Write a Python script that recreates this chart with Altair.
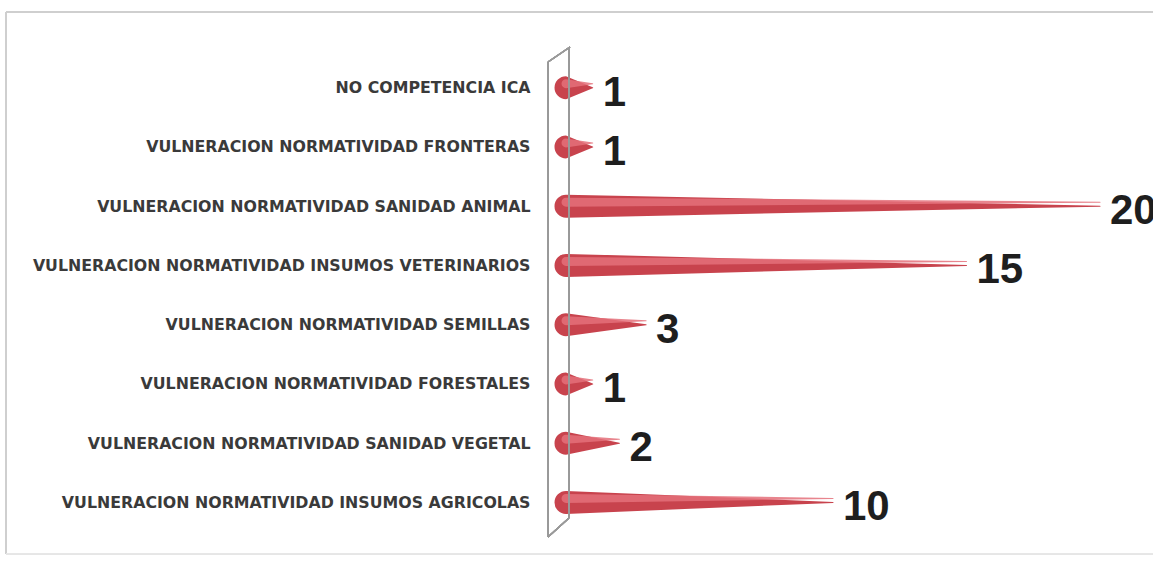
import altair as alt
import pandas as pd

categories = [
    "NO COMPETENCIA ICA",
    "VULNERACION NORMATIVIDAD FRONTERAS",
    "VULNERACION NORMATIVIDAD SANIDAD ANIMAL",
    "VULNERACION NORMATIVIDAD INSUMOS VETERINARIOS",
    "VULNERACION NORMATIVIDAD SEMILLAS",
    "VULNERACION NORMATIVIDAD FORESTALES",
    "VULNERACION NORMATIVIDAD SANIDAD VEGETAL",
    "VULNERACION NORMATIVIDAD INSUMOS AGRICOLAS",
]
values = [1, 1, 20, 15, 3, 1, 2, 10]

# cone geometry: base (value 0, wide) -> tip (value, zero width)
rows = []
for c, v in zip(categories, values):
    rows.append({"cat": c, "x": 0, "w": 23, "hl": 9, "order": 0})
    rows.append({"cat": c, "x": v, "w": 0, "hl": 0, "order": 1})
cones = pd.DataFrame(rows)
labels = pd.DataFrame({"cat": categories, "value": values})

PL, PT = 566, 58
W, H = 1100 - PL, 474

xs = alt.Scale(domain=[0, 20], nice=False, zero=True)
ys = alt.Scale(domain=categories, paddingInner=0, paddingOuter=0)

y_axis = alt.Axis(
    title=None, domain=False, ticks=False, labelPadding=36, labelLimit=700,
    labelFont="DejaVu Sans", labelFontWeight="bold", labelFontSize=15.8,
    labelColor="#3a3a3a",
)

base_cone = alt.Chart(cones).mark_trail(color="#c8434d").encode(
    x=alt.X("x:Q", scale=xs, axis=None),
    y=alt.Y("cat:N", scale=ys, axis=y_axis, sort=categories),
    size=alt.Size("w:Q", scale=None),
    detail="cat:N",
    order="order:Q",
)
hl_cone = alt.Chart(cones).mark_trail(color="#e4707a", opacity=0.85, yOffset=-4).encode(
    x=alt.X("x:Q", scale=xs),
    y=alt.Y("cat:N", scale=ys, sort=categories),
    size=alt.Size("hl:Q", scale=None),
    detail="cat:N",
    order="order:Q",
)

text = alt.Chart(labels).mark_text(
    align="left", baseline="middle", dx=10, dy=5, fontSize=42,
    font="Liberation Sans", fontWeight="bold", color="#1e1e1e",
).encode(
    x=alt.X("value:Q", scale=xs),
    y=alt.Y("cat:N", scale=ys, sort=categories),
    text="value:Q",
)

# back wall (3D panel) and outer frame, drawn as decoration in pixels
def rule(x1, y1, x2, y2, color, sw):
    return alt.Chart(labels).mark_rule(color=color, strokeWidth=sw).encode(
        x=alt.value(x1), x2=alt.value(x2), y=alt.value(y1), y2=alt.value(y2)
    )

wall_col = "#9a9a9a"
wall = [
    rule(-18, 4, -18, 479, wall_col, 1.3),
    rule(3, -10, 3, 460, wall_col, 1.3),
    rule(-18, 4, 4, -11, wall_col, 1.3),
    rule(-18, 479, 3, 460, wall_col, 1.3),
]
frame_col = "#cfcfcf"
frame = [
    rule(-560, -46, 600, -46, frame_col, 2),
    rule(-560, -46, -560, 496, frame_col, 1.5),
    rule(-560, 496, 600, 496, "#e6e6e6", 1),
]

chart = alt.layer(
    *frame, wall[0], wall[2], wall[3], base_cone, hl_cone, wall[1], text
).properties(
    width=W, height=H,
    padding={"left": PL, "top": PT, "right": 1153 - PL - W, "bottom": 565 - PT - H},
    autosize=alt.AutoSizeParams(type="none"),
    background="white",
).configure_view(stroke=None)

chart.save("out.html", embed_options={"renderer": "svg", "actions": False})
